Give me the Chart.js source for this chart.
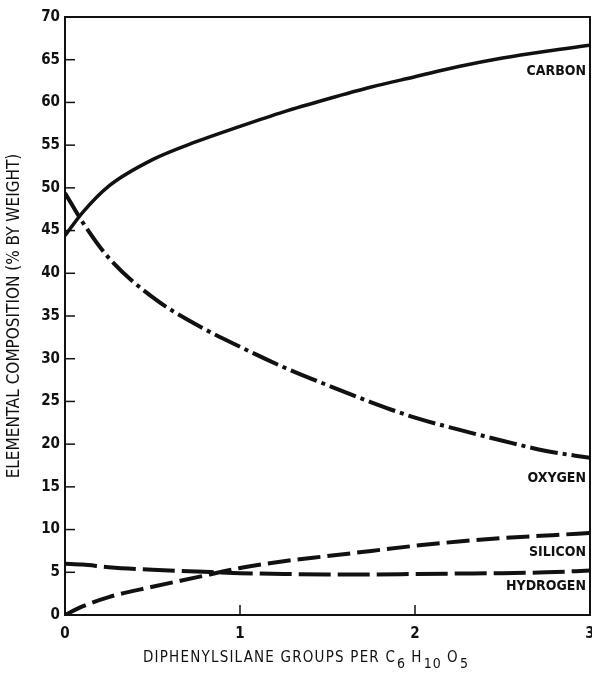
<!DOCTYPE html>
<html>
<head>
<meta charset="utf-8">
<script src="https://cdn.jsdelivr.net/npm/chart.js@4.4.1/dist/chart.umd.min.js"></script>
<style>
  html, body { margin: 0; padding: 0; background: #fff; }
  #wrap { position: relative; width: 592px; height: 674px; }
  #xTitle {
    position: absolute; left: 143px; top: 648px; white-space: nowrap;
    font-family: "DejaVu Sans Condensed", sans-serif;
    font-size: 15px; letter-spacing: 1.2px; color: #111;
  }
  #xTitle sub { font-size: 14px; vertical-align: -6px; margin: 0 5px 0 1px; }
</style>
</head>
<body>
<div id="wrap">
  <canvas id="chart" width="592" height="674"></canvas>
  <div id="xTitle">DIPHENYLSILANE GROUPS PER C<sub>6</sub>H<sub>10</sub>O<sub>5</sub></div>
</div>
<script>
// ================= DATA =================
const groups   = [0, 0.1, 0.25, 0.5, 0.75, 1, 1.25, 1.5, 1.75, 2, 2.25, 2.5, 2.75, 3];
const carbon   = [44.4, 47.1, 50.2, 53.3, 55.4, 57.2, 58.9, 60.4, 61.8, 63.0, 64.2, 65.2, 66.0, 66.7];
const oxygen   = [49.4, 46.0, 41.8, 37.2, 34.0, 31.4, 29.0, 26.9, 24.9, 23.1, 21.7, 20.4, 19.2, 18.4];
const silicon  = [0, 1.0, 2.1, 3.3, 4.4, 5.5, 6.3, 6.9, 7.5, 8.1, 8.6, 9.0, 9.3, 9.6];
const hydrogen = [6.0, 5.9, 5.6, 5.3, 5.1, 4.9, 4.8, 4.75, 4.75, 4.8, 4.85, 4.9, 5.0, 5.2];
const yTicks = [0, 5, 10, 15, 20, 25, 30, 35, 40, 45, 50, 55, 60, 65, 70];
const xTicks = [0, 1, 2, 3];
const seriesNames = ["CARBON", "OXYGEN", "SILICON", "HYDROGEN"];
// label anchor values (y, in % by weight) at x = 3
const labelAt = [63.6, 16.0, 7.3, 3.3];

const FONT = "DejaVu Sans Condensed";
const INK = "#111";

const toPts = arr => arr.map((v, i) => ({ x: groups[i], y: v }));

// ================= PLUGINS =================
const frame = {
  id: "frame",
  afterDraw(chart) {
    const { ctx, chartArea: a, scales } = chart;
    ctx.save();
    ctx.strokeStyle = INK;
    ctx.lineWidth = 2;
    ctx.strokeRect(a.left, a.top, a.right - a.left, a.bottom - a.top);

    // inner tick marks
    ctx.lineWidth = 1.5;
    yTicks.forEach(v => {
      const y = scales.y.getPixelForValue(v);
      ctx.beginPath();
      ctx.moveTo(a.left, y);
      ctx.lineTo(a.left + 10, y);
      ctx.stroke();
    });
    xTicks.forEach(v => {
      const x = scales.x.getPixelForValue(v);
      ctx.beginPath();
      ctx.moveTo(x, a.bottom);
      ctx.lineTo(x, a.bottom - 10);
      ctx.stroke();
    });

    // curve names
    ctx.fillStyle = INK;
    ctx.font = "bold 14px '" + FONT + "'";
    ctx.textAlign = "right";
    ctx.textBaseline = "middle";
    seriesNames.forEach((name, i) => {
      ctx.fillText(name, scales.x.getPixelForValue(3) - 4, scales.y.getPixelForValue(labelAt[i]));
    });
    ctx.restore();
  }
};

// ================= CHART =================
new Chart(document.getElementById("chart"), {
  type: "line",
  data: {
    datasets: [
      { label: "Carbon", data: toPts(carbon), borderColor: INK, borderWidth: 3.5 },
      { label: "Oxygen", data: toPts(oxygen), borderColor: INK, borderWidth: 4, borderDash: [28, 5, 4, 5] },
      { label: "Silicon", data: toPts(silicon), borderColor: INK, borderWidth: 4, borderDash: [23, 7] },
      { label: "Hydrogen", data: toPts(hydrogen), borderColor: INK, borderWidth: 4, borderDash: [32, 7] }
    ]
  },
  options: {
    responsive: false,
    animation: false,
    elements: {
      point: { radius: 0 },
      line: { tension: 0.4, cubicInterpolationMode: "monotone", borderCapStyle: "butt" }
    },
    layout: { padding: { top: 17, right: 2, left: 0, bottom: 0 } },
    plugins: { legend: { display: false }, tooltip: { enabled: false } },
    scales: {
      x: {
        type: "linear", min: 0, max: 3,
        afterFit: s => { s.height = 59; s.paddingLeft = 0; s.paddingRight = 0; },
        afterBuildTicks: s => { s.ticks = xTicks.map(v => ({ value: v })); },
        grid: { display: false, drawTicks: false },
        border: { display: false },
        ticks: { color: INK, padding: 10, font: { family: FONT, size: 15, weight: "bold" } }
      },
      y: {
        min: 0, max: 70,
        afterFit: s => { s.width = 65; },
        afterBuildTicks: s => { s.ticks = yTicks.map(v => ({ value: v })); },
        grid: { display: false, drawTicks: false },
        border: { display: false },
        ticks: { color: INK, padding: 5, font: { family: FONT, size: 15, weight: "bold" } },
        title: {
          display: true, text: "ELEMENTAL COMPOSITION (% BY WEIGHT)", color: INK,
          font: { family: FONT, size: 17 }, padding: { top: 4, bottom: 0 }
        }
      }
    }
  },
  plugins: [frame]
});
</script>
</body>
</html>
